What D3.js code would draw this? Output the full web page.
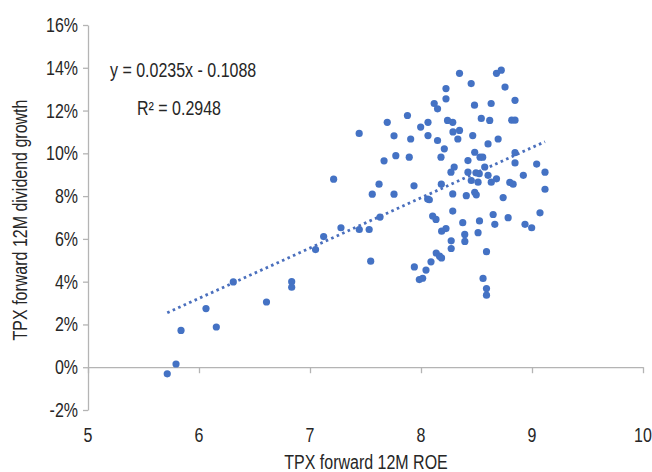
<!DOCTYPE html>
<html><head><meta charset="utf-8">
<script src="https://cdn.jsdelivr.net/npm/d3@7"></script>
<style>
html,body{margin:0;padding:0;background:#fff;}
svg text{font-family:"Liberation Sans",Arial,sans-serif;fill:#262626;}
</style></head><body>
<svg id="c" width="652" height="472"></svg>
<script>
const roe = [5.714,5.793,5.838,6.063,6.156,6.309,6.608,6.835,6.835,7.05,
7.123,7.213,7.279,7.444,7.533,7.547,7.443,7.696,7.878,7.757,
7.907,7.997,8.063,8.063,8.119,8.149,8.225,8.225,8.239,8.149,
8.21,8.18,7.667,7.773,7.894,8.347,8.68,8.723,8.452,8.757,
8.482,8.632,8.847,8.286,8.543,8.619,8.817,8.847,8.288,8.347,
8.332,8.466,8.695,8.604,8.484,8.532,8.556,8.847,8.847,8.423,
9.042,9.117,8.299,8.27,8.423,8.495,8.525,8.574,8.604,8.68,
8.922,8.453,8.514,8.633,8.8,8.83,8.183,9.117,8.06,8.075,
8.286,8.408,8.484,8.498,8.74,8.286,8.105,8.135,8.376,8.527,
8.65,8.665,8.785,8.937,8.997,9.072,8.186,8.225,8.394,8.514,
8.272,8.272,8.395,8.137,8.167,8.185,8.09,8.045,7.94,7.985,
8.015,8.59,8.559,8.59,8.59,7.622,7.937,7.561,7.757,7.631];
const growth = [-0.31,0.15,1.72,2.74,1.88,3.99,3.05,4.0,3.74,5.5,
6.11,8.79,6.52,6.44,6.44,4.96,10.93,11.45,11.77,10.82,
10.67,11.23,11.45,10.83,12.33,12.08,13.03,12.55,11.54,10.6,
10.21,9.82,9.65,9.89,9.82,13.74,13.74,13.89,13.26,13.1,
12.25,12.33,12.48,11.45,11.63,11.54,11.55,11.55,11.0,11.07,
10.67,10.83,10.67,10.44,10.05,9.82,9.82,10.03,9.55,9.66,
9.5,9.12,9.36,9.12,9.12,9.09,9.05,9.36,8.97,8.81,
8.97,8.73,8.65,8.65,8.64,8.56,8.56,8.32,7.86,7.83,
8.1,8.02,8.18,8.06,7.93,7.3,7.07,6.91,6.76,6.84,
7.14,6.68,6.99,6.68,6.52,7.22,6.36,6.48,6.21,6.29,
5.91,5.55,5.88,5.34,5.19,5.11,4.93,4.54,4.69,4.1,
4.16,5.4,4.15,3.68,3.37,8.56,8.48,8.09,8.09,7.02];
const xTicks = [5,6,7,8,9,10];
const yTicks = [-2,0,2,4,6,8,10,12,14,16];
const slope = 0.0235, intercept = -0.1088;
const eqLabel = "y = 0.0235x - 0.1088";
const r2Label = "R\u00B2 = 0.2948";
const xTitle = "TPX forward 12M ROE";
const yTitle = "TPX forward 12M dividend growth";

const svg = d3.select("#c");
const x = d3.scaleLinear().domain([5,10]).range([88,643]);
const y = d3.scaleLinear().domain([-2,16]).range([410,25]);
const axisColor = "#b4b4b4";
const FS = 19.5, SX = 0.82;

function label(g, tx, ty, str, anchor, rot){
  return g.append("text")
    .attr("transform", `translate(${tx},${ty})` + (rot ? ` rotate(${rot})` : "") + ` scale(${SX},1)`)
    .attr("text-anchor", anchor || "start").attr("font-size", FS).text(str);
}

// y axis
const ya = svg.append("g").attr("transform","translate(88,0)")
  .call(d3.axisLeft(y).tickValues(yTicks).tickSize(5).tickSizeOuter(0).tickFormat(""));
ya.select(".domain").attr("stroke",axisColor).attr("stroke-width",1.3);
ya.selectAll(".tick line").attr("stroke",axisColor).attr("stroke-width",1.3);
const yl = svg.append("g");
yTicks.forEach(t => label(yl, 78, y(t) + 7, t + "%", "end"));

// x axis at y=0
const xa = svg.append("g").attr("transform",`translate(0,${y(0)})`)
  .call(d3.axisBottom(x).tickValues(xTicks).tickSize(6).tickSizeOuter(0).tickFormat(""));
xa.select(".domain").attr("stroke",axisColor).attr("stroke-width",1.3);
xa.selectAll(".tick line").attr("stroke",axisColor).attr("stroke-width",1.3);

// x tick labels below plot
const xl = svg.append("g");
xTicks.forEach(t => label(xl, x(t), 441.5, String(t), "middle"));

// titles
label(svg, 366, 469, xTitle, "middle");
label(svg, 27, 220, yTitle, "middle", -90);

// points
const pts = roe.map((v,i)=>({x:v,y:growth[i]}));
svg.append("g").selectAll("circle").data(pts).join("circle")
  .attr("cx",d=>x(d.x)).attr("cy",d=>y(d.y)).attr("r",3.6).attr("fill","#4472c4");

// trendline
const xr = d3.extent(roe);
const line = d3.line().x(d=>x(d)).y(d=>y((slope*d+intercept)*100));
svg.append("path").datum(xr).attr("d",line).attr("fill","none")
  .attr("stroke","#4a6fbd").attr("stroke-width",2.8).attr("stroke-dasharray","2.6,3.4");

// equation
label(svg, 110, 76.5, eqLabel, "start");
label(svg, 137, 115, r2Label, "start");
</script>
</body></html>
